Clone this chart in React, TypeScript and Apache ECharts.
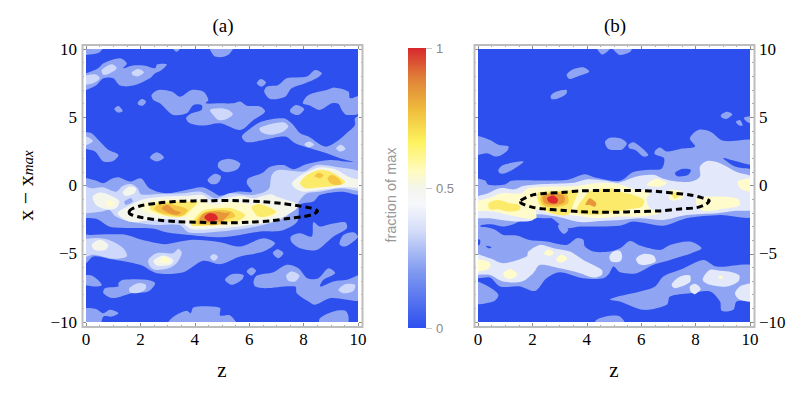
import React, { useEffect, useRef } from "react";
import * as echarts from "echarts";

type Pt = number[];
type Shape = Pt[];

// Filled contour outlines as [z, x - xmax] pairs.
const aLevel1: Shape[] = [
  [[-0.2,10.2],[0.64,10.2],[0.45,9.7],[0,9.56],[-0.2,9.5]],
  [[-0.2,8.22],[0,8.22],[0.45,8.59],[0.64,8.95],[1.25,9.32],[1.5,8.95],[1.37,8.59],[1.68,8.78],[2.17,8.78],[2.54,8.59],[2.62,8.88],[2.97,8.88],[2.78,8.46],[2.54,8.22],[2.35,7.85],[1.74,7.32],[1.25,7.32],[1.0,7.85],[0.64,7.85],[0.39,7.37],[0,7.0],[-0.2,7.0]],
  [[3.15,10.2],[3.5,10.2],[3.33,9.8]],
  [[4.56,10.2],[5.42,10.2],[5.25,9.6],[4.93,9.4],[4.7,9.5]],
  [[2.41,6.63],[2.66,7.0],[3.15,6.88],[3.46,6.51],[3.88,7.0],[4.31,6.88],[4.5,6.27],[4.4,6.02],[4.93,6.02],[5.42,6.02],[5.67,6.15],[5.91,5.85],[6.4,5.78],[6.58,5.41],[6.16,4.8],[5.67,4.07],[4.93,4.56],[4.31,4.39],[3.82,4.56],[3.68,4.93],[3.88,5.29],[4.25,5.54],[4.25,5.9],[3.95,5.9],[3.7,5.29],[3.21,5.17],[2.97,5.54],[2.72,6.02],[2.48,6.27]],
  [[1.9,6.07],[2.05,6.34],[2.21,6.15],[2.09,5.85],[1.94,5.9]],
  [[1.04,5.61],[1.19,5.83],[1.35,5.46],[1.19,5.34]],
  [[2.35,2.05],[2.6,2.44],[2.87,2.05],[2.6,1.76]],
  [[-0.2,3.9],[0,3.9],[0.21,3.83],[0.51,3.22],[0.82,2.61],[1.19,2.24],[1.0,1.8],[0.64,1.76],[0.33,2.49],[-0.2,2.85]],
  [[6.28,7.49],[6.43,7.8],[6.62,7.54],[6.46,7.24]],
  [[6.55,6.88],[6.65,7.24],[7.07,7.37],[7.38,7.85],[8.12,7.98],[8.42,8.46],[8.67,8.22],[8.48,7.85],[8.06,7.49],[7.56,7.12],[7.32,6.51],[6.77,6.34]],
  [[7.97,6.02],[8.18,6.63],[8.85,7.0],[9.16,7.17],[9.65,6.88],[9.71,6.39],[10.2,6.63],[10.2,5.41],[9.59,5.17],[9.4,5.54],[9.28,5.98],[9.04,6.02],[8.6,5.54],[8.24,5.85]],
  [[7.5,5.54],[7.72,5.9],[8.02,5.61],[7.81,5.17],[7.56,5.29]],
  [[5.73,3.59],[5.97,4.07],[6.46,4.68],[7.26,4.93],[7.56,4.56],[7.87,3.83],[8.18,3.59],[8.79,2.85],[9.22,3.22],[9.65,3.95],[9.89,4.44],[9.89,4.93],[10.2,5.17],[10.2,1.76],[9.53,1.88],[8.85,2.37],[8.24,2.73],[7.69,3.1],[7.32,3.59],[6.52,3.34],[5.91,3.17]],
  [[4.85,1.6],[4.93,1.8],[5.3,1.95],[5.67,1.63],[5.54,1.15],[5.11,0.98],[4.87,1.3]],
  [[4.47,0.4],[4.72,0.85],[4.96,0.65],[4.84,0.16],[4.6,0.11]],
  // central band
  [[-0.2,0.49],[0.3,0.4],[0.64,0.17],[0.95,0.5],[1.19,0.6],[1.62,0.29],[2.02,0.53],[2.33,-0.2],[2.94,-0.57],[3.68,-0.33],[4.29,-0.13],[4.84,-0.69],[4.93,-0.76],[5.54,-0.45],[6.1,-0.45],[5.91,0.16],[5.97,0.53],[6.46,0.89],[6.77,1.38],[7.26,1.5],[7.63,1.19],[8.12,1.58],[8.97,1.87],[9.53,1.75],[10.2,1.5],[10.2,-0.62],[9.4,-0.45],[8.6,-0.69],[8.36,-1.18],[7.87,-1.42],[7.77,-2.64],[7.2,-3.3],[6.4,-3.37],[5.66,-3.62],[4.93,-3.79],[3.7,-3.6],[3.0,-3.45],[2.45,-3.15],[1.3,-3.1],[0.85,-3.0],[0.4,-2.45],[-0.2,-2.2]],
  [[7.53,-3.74],[7.87,-3.5],[8.3,-3.74],[8.36,-2.69],[8.6,-3.01],[8.97,-2.84],[9.53,-2.69],[9.59,-3.13],[9.1,-3.74],[8.48,-4.72],[7.87,-4.6],[7.56,-4.16]],
  // lower bands
  [[-0.2,-3.62],[0.15,-3.62],[0.88,-3.57],[1.5,-3.62],[2.05,-3.98],[2.9,-4.3],[3.46,-4.11],[3.95,-3.98],[4.93,-4.16],[5.67,-4.47],[6.52,-3.86],[6.95,-4.23],[6.52,-4.84],[5.67,-5.2],[4.93,-5.76],[4.31,-5.52],[3.58,-6.35],[2.6,-6.42],[1.99,-5.81],[0.88,-5.38],[0.27,-5.2],[0,-5.69],[-0.2,-5.7]],
  [[6.87,-4.96],[7.04,-4.67],[7.26,-4.96],[7.07,-5.33]],
  [[-0.2,-6.67],[0.21,-6.6],[0.58,-7.28],[0.33,-7.4],[-0.2,-7.15]],
  [[1.19,-7.16],[1.37,-6.91],[2.23,-6.91],[2.54,-7.16],[2.29,-7.76],[1.68,-7.89],[1.0,-8.25],[0.64,-7.89],[0.7,-7.52],[1.19,-7.4]],
  [[-0.2,-9.1],[0.33,-9.03],[0.64,-9.35],[0.88,-9.11],[1.19,-9.35],[0.95,-9.6],[0.64,-9.6],[0.51,-10.2],[-0.2,-10.2]],
  [[3.09,-9.84],[3.33,-9.47],[3.7,-9.18],[3.85,-9.35],[3.95,-8.94],[4.56,-8.86],[4.93,-8.98],[4.93,-9.52],[5.3,-9.52],[5.52,-10.2],[3.0,-10.2]],
  [[5.11,-6.91],[5.36,-6.5],[5.79,-6.55],[5.73,-6.91],[5.36,-7.28]],
  [[5.91,-6.3],[6.09,-6.01],[6.25,-6.25],[6.09,-6.6]],
  [[6.16,-7.03],[6.28,-6.59],[6.89,-6.35],[7.38,-5.81],[7.81,-6.06],[8.14,-6.79],[8.54,-6.79],[8.91,-6.06],[9.16,-6.42],[8.73,-6.91],[8.61,-7.4],[9.1,-7.03],[9.59,-6.91],[10.2,-6.55],[10.2,-8.37],[9.0,-8.25],[8.42,-8.74],[8.18,-8.5],[7.75,-7.89],[7.69,-7.4],[6.58,-7.52],[6.22,-7.4]],
  [[9.32,-4.3],[9.46,-3.62],[9.83,-3.42],[10.0,-3.74],[9.83,-4.11],[9.53,-4.47]],
  [[8.6,-9.72],[9.1,-9.23],[9.53,-9.18],[9.65,-9.6],[9.59,-10.2],[8.6,-10.2]],
];

const aLevel2: Shape[] = [
  [[-0.2,7.9],[0.33,8.15],[0.51,7.85],[0.26,7.49],[-0.2,7.4]],
  [[0.58,8.46],[0.94,8.88],[1.13,8.59],[0.88,8.22],[0.64,8.1]],
  [[1.68,8.29],[1.92,8.54],[2.13,8.29],[1.92,8.0],[1.74,8.05]],
  [[4.56,5.54],[4.93,5.66],[5.24,5.54],[5.4,5.22],[5.17,4.88],[4.87,4.8],[4.68,5.17]],
  [[-0.05,3.59],[0.25,3.27],[0.02,2.98],[-0.2,3.1]],
  [[6.38,4.2],[6.77,4.49],[7.26,4.63],[7.44,4.32],[7.2,3.9],[6.77,3.71],[6.46,3.9]],
  [[8.03,3.02],[8.21,3.22],[8.39,2.98],[8.18,2.8]],
  [[9.2,2.73],[9.37,2.98],[9.54,2.68],[9.34,2.49]],
  // central band
  [[-0.25,0.11],[0.18,-0.2],[0.61,-0.13],[1.1,-0.45],[1.35,-0.03],[1.65,0.11],[1.9,-0.2],[2.02,-0.64],[2.63,-0.62],[3.55,-0.57],[4.23,-0.45],[4.72,-0.93],[4.93,-0.86],[5.3,-0.57],[6.16,-0.69],[6.71,-0.28],[6.83,0.77],[7.07,1.14],[7.99,1.02],[8.48,1.5],[9.16,1.38],[10.2,0.89],[10.2,-0.33],[9.34,-0.2],[8.6,-0.45],[8.12,-0.57],[7.87,-1.06],[7.72,-1.54],[7.26,-2.4],[6.52,-2.89],[5.91,-3.13],[4.93,-3.37],[3.8,-3.45],[3.43,-2.89],[2.57,-2.89],[1.59,-2.64],[1.1,-2.28],[0.86,-1.79],[0.6,-1.9],[0,-2.03],[-0.25,-2.03]],
  // lower bands
  [[-0.2,-4.1],[0.27,-3.86],[0.82,-3.98],[1.37,-4.6],[1.5,-5.2],[1.0,-5.37],[0.27,-5.08],[-0.2,-5.3]],
  [[2.29,-5.45],[2.6,-4.96],[3.21,-4.96],[3.4,-4.64],[3.52,-4.96],[3.33,-5.69],[3.03,-6.06],[2.54,-6.18],[2.35,-5.94]],
  [[4.56,-5.23],[4.71,-5.01],[4.85,-5.23],[4.71,-5.52]],
  [[1.59,-7.52],[1.92,-7.16],[2.2,-7.28],[2.17,-7.64],[1.86,-7.89],[1.62,-7.82]],
  [[7.36,-6.59],[7.56,-6.3],[7.85,-6.59],[7.69,-7.03],[7.44,-6.98]],
  [[9.28,-7.64],[9.53,-7.23],[9.89,-7.28],[9.83,-7.72],[9.46,-7.89]],
];

const aCream: Shape[] = [
  [[0.25,-0.81],[0.55,-0.52],[1.04,-0.86],[1.23,-1.18],[1.1,-1.67],[0.74,-1.74],[0.37,-1.42]],
  [[1.35,-0.52],[1.59,-0.08],[1.84,-0.2],[1.78,-0.57],[1.47,-0.76]],
  [[1.16,-2.03],[1.53,-1.54],[2.02,-1.06],[2.57,-0.86],[3.68,-0.76],[4.29,-0.69],[4.6,-1.11],[4.93,-1.0],[5.66,-0.76],[6.16,-0.93],[6.77,-0.64],[7.07,-0.86],[7.57,-1.18],[7.81,-1.42],[7.69,-1.79],[7.0,-2.52],[6.52,-2.76],[5.79,-2.96],[4.93,-3.13],[3.92,-3.2],[3.55,-2.76],[3.3,-2.47],[2.45,-2.52],[1.59,-2.64]],
  [[7.57,0.16],[7.81,0.65],[8.18,1.02],[8.6,1.33],[9.16,1.19],[9.65,0.65],[10.2,0.28],[10.2,-0.13],[9.46,-0.13],[8.6,-0.33],[7.99,-0.45],[7.69,-0.2]],
  [[0.21,-4.35],[0.51,-3.98],[0.82,-4.35],[0.7,-4.72],[0.33,-4.72]],
  [[2.48,-5.52],[2.84,-5.13],[3.21,-5.45],[3.09,-5.81],[2.6,-5.86]],
];

const aGaps: Shape[] = [
  [[1.41,-1.18],[1.65,-0.94],[1.72,-1.18],[1.47,-1.42]],
];

const aPale: Shape[] = [
  [[0.76,-1.18],[0.92,-1.1],[1.04,-1.35],[0.92,-1.54],[0.8,-1.5]],
  [[2.72,-5.52],[2.9,-5.2],[3.09,-5.52],[2.9,-5.69]],
  [[2.02,-1.5],[2.51,-1.1],[3.68,-1.0],[4.23,-1.1],[4.53,-1.37],[4.9,-1.42],[5.42,-1.18],[6.09,-1.42],[6.4,-1.3],[7.07,-1.91],[6.77,-2.33],[6.16,-2.52],[5.79,-2.76],[4.93,-2.96],[4.04,-3.0],[3.8,-2.64],[3.68,-2.33],[3.13,-2.33],[2.57,-2.15],[2.14,-1.91]],
];

const aYellow: Shape[] = [
  [[7.87,0.16],[8.12,0.77],[8.55,1.14],[8.97,1.02],[9.53,0.28],[9.34,0.04],[8.6,-0.13],[8.06,-0.2]],
  [[2.33,-1.67],[2.63,-1.25],[3.68,-1.18],[4.11,-1.18],[3.8,-1.91],[3.55,-2.28],[3.06,-2.28],[2.63,-2.03]],
  [[3.86,-2.89],[4.11,-2.15],[4.35,-1.79],[4.9,-1.67],[5.36,-1.67],[5.85,-2.15],[5.66,-2.52],[4.93,-2.76],[4.23,-2.96]],
  [[6.09,-1.55],[6.4,-1.37],[7.0,-1.91],[6.71,-2.23],[6.34,-2.28],[6.16,-1.91]],
];

const aAmber: Shape[] = [
  [[8.4,0.7],[8.55,0.94],[8.73,0.77],[8.6,0.53]],
  [[8.88,0.53],[9.04,0.77],[9.28,0.53],[9.4,0.11],[9.16,0.04],[8.97,0.21]],
  [[2.51,-1.67],[2.76,-1.35],[3.25,-1.42],[3.74,-1.79],[3.49,-2.23],[3.06,-2.15],[2.7,-1.98]],
  [[4.04,-2.76],[4.23,-2.15],[4.47,-1.91],[4.9,-1.79],[5.35,-1.91],[5.48,-2.28],[5.11,-2.52],[4.93,-2.85],[4.41,-2.89]],
];

const aOrange: Shape[] = [
  [[2.79,-1.67],[3.0,-1.42],[3.25,-1.79],[3.49,-1.98],[3.31,-2.15],[3.0,-1.98]],
  [[4.17,-2.52],[4.35,-2.03],[4.78,-1.91],[5.1,-2.0],[5.3,-2.0],[5.0,-2.6],[4.75,-2.7],[4.3,-2.7]],
];

const aRed: Shape[] = [
  [[4.35,-2.33],[4.53,-2.03],[4.78,-2.15],[4.84,-2.47],[4.53,-2.64]],
];

const bLevel1: Shape[] = [
  [[4.36,10.2],[4.55,9.6],[4.75,9.8],[4.9,10.2]],
  [[4.91,10.2],[5.1,9.7],[5.22,9.56],[5.6,9.8],[5.65,10.2]],
  [[3.26,8.1],[3.5,8.51],[3.87,8.66],[4.09,8.34],[3.75,8.05],[3.38,7.8]],
  [[2.68,6.6],[2.89,6.88],[3.26,7.0],[3.23,6.68],[2.89,6.34],[2.7,6.34]],
  [[-0.2,3.6],[0.44,3.34],[0.75,2.98],[1.12,2.85],[1.05,2.49],[0.69,2.12],[0.32,2.37],[-0.2,2.24]],
  [[0.75,1.15],[0.93,1.51],[1.67,1.76],[1.36,1.27],[1.0,0.9],[0.8,0.9]],
  [[4.67,3.2],[4.85,3.5],[5.22,3.46],[5.47,3.1],[5.34,2.7],[5.22,2.6],[4.79,2.68]],
  [[5.53,2.98],[5.71,3.17],[5.96,2.85],[6.26,2.24],[6.08,2.12],[5.77,2.61],[5.56,2.73]],
  [[8.93,5.17],[9.14,5.41],[9.35,5.22],[9.14,4.88],[8.96,4.98]],
  [[9.48,4.68],[9.63,4.8],[9.73,4.39],[9.57,4.44]],
  [[9.78,4.98],[10.2,5.05],[10.2,4.44],[9.85,4.73]],
  // central band, wrapped round the dark strip to the lower band
  [[-0.2,0.41],[0.26,0.37],[0.38,0.05],[0.93,0.05],[1.24,0.34],[2.16,0.37],[3.26,0.41],[3.93,0.83],[4.3,0.59],[5.22,0.34],[5.71,0.98],[6.32,1.15],[6.75,1.22],[6.84,2.0],[6.5,2.29],[6.51,2.54],[6.69,2.78],[6.94,2.49],[7.43,2.68],[7.98,2.85],[7.79,3.46],[8.1,4.07],[8.53,3.95],[9.02,3.27],[10.2,3.27],[10.2,1.56],[9.45,1.8],[9.02,2.0],[9.45,1.39],[10.2,0.98],[10.2,-2.2],[8.9,-2.16],[7.67,-2.4],[6.81,-2.94],[5.71,-2.64],[5.22,-2.94],[3.75,-3.01],[3.26,-3.13],[2.95,-2.77],[2.71,-2.4],[2.52,-2.4],[1.79,-2.4],[1.3,-2.84],[0.93,-3.01],[0.5,-2.84],[0.13,-2.89],[0.08,-3.0],[0.32,-3.06],[0.63,-3.25],[0.93,-3.62],[1.42,-3.67],[1.85,-3.98],[2.52,-4.11],[3.26,-4.35],[3.63,-3.86],[3.87,-3.98],[3.93,-4.47],[4.24,-4.84],[4.85,-4.84],[5.22,-4.6],[5.59,-4.06],[5.96,-4.4],[6.69,-4.72],[7.06,-4.35],[7.79,-4.11],[8.22,-4.6],[7.85,-4.96],[7.06,-5.45],[6.45,-5.81],[5.83,-6.42],[5.22,-6.35],[4.98,-5.94],[4.83,-6.42],[4.61,-6.79],[3.87,-6.79],[3.01,-6.35],[2.52,-6.79],[2.1,-7.72],[1.54,-7.4],[0.81,-7.4],[0.44,-6.74],[-0.2,-6.67]],
  [[-0.2,-7.0],[0.38,-7.4],[0.75,-8.0],[0.56,-8.5],[-0.2,-8.6]],
  [[4.85,-8.35],[5.22,-8.1],[5.96,-7.76],[6.51,-7.4],[6.81,-6.67],[7.43,-6.18],[8.28,-5.45],[8.77,-5.94],[10.2,-5.94],[10.2,-8.25],[9.51,-8.5],[9.39,-9.1],[8.96,-9.18],[8.9,-8.5],[8.53,-7.76],[7.79,-7.89],[7.06,-8.13],[6.94,-8.74],[6.08,-9.11],[5.22,-8.5]],
  [[4.36,-9.84],[4.85,-9.55],[5.22,-9.6],[5.4,-10.2],[4.3,-10.2]],
];

const bDark: Shape[] = [
  [[7.24,0.9],[7.49,1.2],[7.82,1.15],[7.73,0.78],[7.36,0.66]],
  [[-0.2,-3.9],[0.07,-3.98],[0.05,-4.35],[-0.2,-4.35]],
  [[0.29,-4.42],[0.5,-4.52],[0.38,-4.6]],
];

const bSpots: Shape[] = [
  [[2.95,-2.89],[3.14,-2.84],[3.32,-3.25],[3.16,-3.55],[2.99,-3.25]],
];

const bLevel2: Shape[] = [
  [[-0.2,-1.01],[0.37,-0.57],[0.8,-0.2],[1.35,-0.28],[1.65,-0.03],[2.45,0.11],[3.55,0.21],[4.04,0.45],[4.66,0.36],[5.15,0.21],[5.83,0.66],[6.45,0.78],[6.81,0.49],[7.3,0.29],[7.85,0.29],[8.16,0.66],[8.16,1.39],[8.43,1.8],[8.9,1.63],[9.51,0.98],[10.2,0.49],[10.2,-1.67],[9.39,-1.86],[8.77,-2.03],[7.67,-2.16],[6.81,-2.52],[5.96,-2.4],[5.22,-2.52],[4.49,-2.6],[3.87,-2.69],[3.38,-2.52],[2.89,-2.28],[2.16,-2.11],[2.03,-2.52],[1.67,-2.64],[1.18,-2.6],[0.44,-2.4],[-0.2,-2.28]],
  [[-0.2,-5.03],[0.44,-5.33],[0.93,-5.69],[1.79,-5.2],[1.85,-4.84],[2.28,-4.35],[2.77,-4.6],[3.38,-4.84],[3.87,-5.45],[4.55,-6.18],[4.55,-6.55],[4.24,-6.74],[3.75,-6.42],[3.01,-6.06],[2.28,-5.81],[2.03,-6.42],[1.61,-7.03],[0.93,-7.03],[0.44,-6.55],[-0.2,-6.42]],
  [[4.83,-5.2],[4.98,-4.84],[5.22,-4.79],[5.3,-5.2],[5.22,-5.57],[4.9,-5.57]],
  [[5.81,-5.37],[6.08,-5.01],[6.45,-5.13],[6.53,-5.57],[6.2,-5.81],[5.93,-5.77]],
  [[7.12,-7.23],[7.43,-6.67],[7.79,-6.59],[7.79,-7.08],[7.24,-7.52]],
  [[7.79,-7.4],[7.98,-7.2],[8.19,-7.57],[7.98,-7.96],[7.82,-7.76]],
  [[8.26,-6.91],[8.53,-6.18],[8.9,-6.25],[9.33,-6.35],[9.61,-6.6],[9.57,-7.03],[9.14,-7.4],[8.53,-7.28]],
  [[9.45,-7.89],[9.69,-7.33],[10.2,-7.23],[10.2,-8.45],[9.63,-8.37]],
];

const bPale: Shape[] = [
  [[-0.2,-1.3],[0.49,-0.86],[0.86,-0.57],[1.59,-0.57],[1.84,-0.2],[2.76,-0.08],[3.68,-0.03],[4.29,0.16],[5.15,0.11],[5.71,-0.25],[6.32,-0.45],[6.2,-1.06],[6.32,-1.67],[6.69,-2.03],[5.96,-2.28],[5.22,-2.28],[4.36,-2.4],[3.38,-2.16],[2.65,-2.03],[2.14,-1.79],[2.14,-2.4],[1.72,-2.4],[1.1,-2.15],[0.55,-1.91],[-0.2,-1.79]],
  [[8.04,-0.94],[8.41,-0.81],[9.51,-0.94],[9.63,-1.42],[9.14,-1.67],[8.28,-1.86],[8.04,-1.42]],
  [[7.06,-0.33],[7.55,-0.5],[7.55,-0.94],[7.06,-1.06]],
  [[6.2,0.05],[6.57,0.49],[6.94,0.17],[6.6,-0.1]],
  [[9.55,0.3],[10.2,0.5],[10.2,-0.4],[9.7,-0.3]],
  [[-0.2,-5.45],[0.32,-5.52],[0.47,-5.81],[0.32,-6.18],[-0.2,-6.25]],
  [[0.93,-6.42],[1.18,-6.11],[1.45,-6.5],[1.24,-6.84],[0.99,-6.74]],
  [[2.43,-4.96],[2.59,-4.67],[2.79,-4.96],[2.59,-5.16]],
  [[2.89,-5.33],[3.08,-5.08],[3.28,-5.37],[3.08,-5.64],[2.92,-5.57]],
  [[8.84,-6.67],[8.96,-6.6],[8.99,-6.79],[8.87,-6.84]],
];

const bYellow: Shape[] = [
  [[0.39,-1.3],[0.74,-1.06],[1.16,-1.3],[1.53,-1.42],[1.53,-1.79],[1.1,-1.91],[0.74,-1.74],[0.43,-1.74]],
  [[2.18,-0.57],[2.45,-0.45],[3.62,-0.37],[3.68,-0.45],[3.49,-1.42],[3.31,-2.15],[2.7,-2.03],[2.27,-1.42]],
  [[3.62,-1.91],[3.92,-0.81],[4.17,-0.37],[4.9,-0.2],[5.3,-0.5],[5.71,-0.69],[6.1,-1.06],[6.02,-1.55],[5.59,-1.72],[5.15,-1.9],[4.29,-2.15]],
  [[7.12,-0.64],[7.28,-0.5],[7.4,-0.74],[7.24,-0.98]],
];

const bAmber: Shape[] = [
  [[2.3,-0.86],[2.7,-0.5],[3.25,-0.64],[3.31,-1.3],[2.76,-1.6],[2.39,-1.42]],
];

const bOrange: Shape[] = [
  [[2.39,-0.81],[2.76,-0.57],[3.16,-0.76],[3.16,-1.25],[2.76,-1.42],[2.45,-1.3]],
  [[3.95,-1.42],[4.11,-0.93],[4.35,-1.3],[4.29,-1.55],[4.11,-1.42]],
];

const bRed: Shape[] = [
  [[2.54,-0.93],[2.76,-0.74],[2.94,-1.01],[2.88,-1.3],[2.63,-1.25]],
];

const aEllipse: Shape = [[1.59,-1.91],[1.68,-1.72],[2.05,-1.47],[2.6,-1.3],[3.27,-1.18],[3.95,-1.13],[4.68,-1.11],[5.67,-1.11],[6.4,-1.18],[7.14,-1.3],[7.75,-1.47],[8.24,-1.64],[8.51,-1.86],[8.36,-2.1],[7.99,-2.28],[7.5,-2.4],[6.77,-2.59],[6.03,-2.69],[5.18,-2.74],[4.01,-2.69],[3.33,-2.64],[2.72,-2.55],[2.05,-2.35],[1.62,-2.1]];
const bEllipse: Shape = [[1.57,-1.1],[2.02,-0.69],[2.51,-0.57],[3.19,-0.5],[3.68,-0.4],[4.41,-0.37],[5.22,-0.37],[5.96,-0.37],[6.69,-0.45],[7.24,-0.57],[7.79,-0.69],[8.22,-0.89],[8.5,-1.11],[8.38,-1.37],[8.04,-1.62],[7.43,-1.72],[6.69,-1.86],[5.83,-1.91],[5.15,-1.96],[4.41,-1.96],[3.68,-1.91],[3.19,-1.84],[2.45,-1.72],[2.02,-1.6],[1.59,-1.3]];

const xTicks = [-10, -5, 0, 5, 10];
const colourStops: [number, string][] = [
  [0, "#2D4FEE"], [0.2, "#7F99F0"], [0.35, "#D5DEF9"], [0.44, "#F6F7FC"], [0.5, "#F4F5EC"],
  [0.56, "#FFFBC0"], [0.667, "#FDF25C"], [0.78, "#EFBC3C"], [0.89, "#E08238"], [1, "#D8282E"],
];

const C = { l1: "#8FA5F3", l2: "#CDD8FA", l2b: "#E3E9FB", cream: "#F5F6EB", pale: "#FFFBCB", yellow: "#FCEB6B", amber: "#F4C442", orange: "#E8963A", red: "#DC2A2C", dark: "#2D4FEE" };

const layer = (shapes: Shape[], fill: string) => shapes.map((pts) => ({ pts, fill }));
const aLayers = [...layer(aLevel1, C.l1), ...layer(aLevel2, C.l2), ...layer(aCream, C.cream), ...layer(aGaps, C.l1), ...layer(aPale, C.pale), ...layer(aYellow, C.yellow), ...layer(aAmber, C.amber), ...layer(aOrange, C.orange), ...layer(aRed, C.red)];
const bLayers = [...layer(bLevel1, C.l1), ...layer(bDark, C.dark), ...layer(bSpots, C.l1), ...layer(bLevel2, C.l2b), ...layer(bPale, C.pale), ...layer(bYellow, C.yellow), ...layer(bAmber, C.amber), ...layer(bOrange, C.orange), ...layer(bRed, C.red)];

const SERIF = "Liberation Serif";
const SANS = "Liberation Sans";
const FRAME = "#BDBDBD";
const SMOOTH = 0.3;
const minus = (v: number) => String(v).replace("-", "\u2212");

function contour(layers: { pts: Shape; fill: string }[], axis: number) {
  return {
    type: "custom", coordinateSystem: "cartesian2d", xAxisIndex: axis, yAxisIndex: axis, clip: true, silent: true,
    data: layers.map((_, i) => [i, 0]),
    renderItem: (_p: any, api: any) => {
      const l = layers[api.value(0)];
      return { type: "polygon", shape: { points: l.pts.map((p) => api.coord(p)), smooth: SMOOTH }, style: { fill: l.fill } };
    },
  };
}
function ring(pts: Shape, axis: number) {
  return {
    type: "custom", coordinateSystem: "cartesian2d", xAxisIndex: axis, yAxisIndex: axis, clip: true, silent: true, z: 5,
    data: [[0, 0]],
    renderItem: (_p: any, api: any) => ({
      type: "polygon", shape: { points: pts.map((p) => api.coord(p)), smooth: SMOOTH },
      style: { fill: "none", stroke: "#000", lineWidth: 3, lineDash: [6.5, 4] },
    }),
  };
}
const tickStyle = { show: true, inside: true, length: 4, lineStyle: { color: "#8C8C8C", width: 1 } };
const minorStyle = { show: true, length: 2, lineStyle: { color: "#A8A8A8", width: 1 } };

function xAx(grid: number, position: string, offset: number, labels: boolean, name?: string) {
  return {
    type: "value", gridIndex: grid, position, offset, min: 0, max: 10, interval: 2,
    axisLine: { show: false, onZero: false }, axisTick: tickStyle, minorTick: { ...minorStyle, splitNumber: 4 }, splitLine: { show: false },
    axisLabel: { show: labels, color: "#000", fontFamily: SERIF, fontSize: 17, margin: 4 },
    name, nameLocation: "middle", nameGap: 32, nameTextStyle: { color: "#000", fontFamily: SERIF, fontSize: 21 },
  };
}
function yAx(grid: number, position: string, offset: number, labels: boolean, name?: any) {
  return {
    type: "value", gridIndex: grid, position, offset, min: xTicks[0], max: xTicks[4], interval: 5,
    axisLine: { show: false, onZero: false }, axisTick: tickStyle, minorTick: { ...minorStyle, splitNumber: 5 }, splitLine: { show: false },
    axisLabel: { show: labels, color: "#000", fontFamily: SERIF, fontSize: 17, margin: 5, formatter: minus },
    name, nameLocation: "middle", nameGap: 46, nameRotate: 90,
    nameTextStyle: { color: "#000", fontFamily: SERIF, fontSize: 22, rich: { a: { fontFamily: SERIF, fontSize: 22 }, b: { fontFamily: SERIF, fontSize: 15, fontStyle: "italic", padding: [6, 0, 0, 0] } } },
  };
}

export default function App() {
  const ref = useRef<HTMLDivElement>(null);
  useEffect(() => {
    const chart = echarts.init(ref.current!, undefined, { renderer: "svg" });
    chart.setOption({
      animation: false,
      backgroundColor: "#fff",
      title: [
        { text: "(a)", left: 218, top: 11, textAlign: "center", textStyle: { color: "#000", fontFamily: SERIF, fontSize: 19, fontWeight: "normal" } },
        { text: "(b)", left: 610, top: 11, textAlign: "center", textStyle: { color: "#000", fontFamily: SERIF, fontSize: 19, fontWeight: "normal" } },
      ],
      grid: [
        { left: 86, top: 49, width: 272, height: 273, show: true, backgroundColor: C.dark, borderWidth: 0 },
        { left: 478, top: 49, width: 272, height: 273, show: true, backgroundColor: C.dark, borderWidth: 0 },
        { left: 408, top: 48, width: 18, height: 280 },
      ],
      xAxis: [
        xAx(0, "bottom", 5, true, "z"), xAx(0, "top", 4, false),
        xAx(1, "bottom", 5, true, "z"), xAx(1, "top", 4, false),
        { type: "category", gridIndex: 2, data: ["fraction"], show: false },
      ],
      yAxis: [
        yAx(0, "left", 4, true, "{a|x \u2212 x}{b|max}"), yAx(0, "right", 5, false),
        yAx(1, "left", 4, false), yAx(1, "right", 4, true),
        {
          type: "value", gridIndex: 2, position: "right", min: 0, max: 1, interval: 0.5, splitLine: { show: false },
          axisLine: { show: false }, axisTick: { show: true, length: 6, lineStyle: { color: "#C8C8C8" } },
          axisLabel: { color: "#8A8A8A", fontFamily: SANS, fontSize: 13, margin: 10 },
        },
      ],
      graphic: [
        { type: "rect", shape: { x: 82.5, y: 45, width: 280, height: 282 }, style: { fill: "none", stroke: FRAME, lineWidth: 2 }, z: 10, silent: true },
        { type: "rect", shape: { x: 474.5, y: 45, width: 280, height: 282 }, style: { fill: "none", stroke: FRAME, lineWidth: 2 }, z: 10, silent: true },
        { type: "text", x: 391, y: 195, rotation: Math.PI / 2, style: { text: "fraction of max", fill: "#999", font: `14.5px ${SANS}`, textAlign: "center", textVerticalAlign: "middle" }, silent: true },
      ],
      series: [
        contour(aLayers, 0), ring(aEllipse, 0),
        contour(bLayers, 2), ring(bEllipse, 2),
        {
          type: "bar", xAxisIndex: 4, yAxisIndex: 4, data: [1], barWidth: "100%", silent: true,
          itemStyle: { color: new echarts.graphic.LinearGradient(0, 1, 0, 0, colourStops.map(([offset, color]) => ({ offset, color }))) },
        },
      ],
    });
    return () => chart.dispose();
  }, []);
  return <div ref={ref} style={{ position: "absolute", left: 0, top: 0, width: 810, height: 396 }} />;
}
